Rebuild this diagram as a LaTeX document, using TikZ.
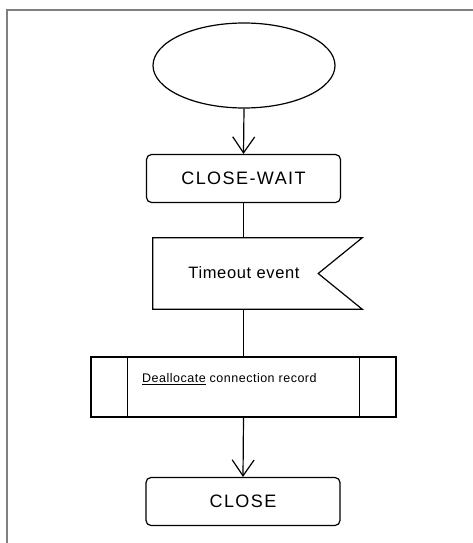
\documentclass[tikz,border=0pt]{standalone}
\usepackage{fontspec}
\setmainfont{Liberation Sans}
\newfontfamily\wideface[LetterSpace=8]{Liberation Sans}
\newfontfamily\midface[LetterSpace=4]{Liberation Sans}
\usepackage{tikz}
\usetikzlibrary{arrows.meta,shapes.geometric,positioning,calc}
\definecolor{frameGray}{RGB}{128,128,128}

\begin{document}
\begin{tikzpicture}[x=1pt,y=-1pt,
  sdl/.style={draw,line width=1.2pt,inner sep=0pt},
  state/.style={sdl,rectangle,rounded corners=5pt,minimum width=194pt,minimum height=48pt,
                font=\wideface\fontsize{18}{20}\selectfont},
  flow/.style={line width=1.2pt},
  go/.style={flow,-{Straight Barb[length=16pt,width=22pt,line width=1.2pt]}}
]
  \useasboundingbox (0,0) rectangle (473,543);
  % frame
  \draw[frameGray,line width=2pt] (7,543) -- (7,10) -- (473,10);
  % start
  \node[sdl,ellipse,minimum width=182pt,minimum height=85pt] (start) at (244,65.5) {};
  \node[state] (closewait) at (243.5,178.5) {CLOSE-WAIT};
  % input signal
  \node[inner sep=0pt,minimum width=209pt,minimum height=71pt] (timeout) at (257.5,273.5) {};
  \draw[flow] (timeout.north west) -- (timeout.north east) -- ([xshift=-44pt]timeout.east)
    -- (timeout.south east) -- (timeout.south west) -- cycle;
  \node[font=\midface\fontsize{16.5}{18}\selectfont] (timeouttxt) at (244,273) {Timeout event};
  % procedure call
  \node[sdl,rectangle,minimum width=305pt,minimum height=60pt] (dealloc) at (243.5,387) {};
  \draw[flow] ([xshift=37pt]dealloc.north west) -- ([xshift=37pt]dealloc.south west);
  \draw[flow] ([xshift=-37pt]dealloc.north east) -- ([xshift=-37pt]dealloc.south east);
  \node[anchor=west,inner sep=0pt,font=\midface\fontsize{12.5}{14}\selectfont] (dealloctxt) at (142,379)
    {\underline{Deallocate} connection record};
  \node[state] (close) at (243,501.5) {CLOSE};
  % connectors
  \draw[go] (start.south) -- (closewait.north);
  \draw[flow] (closewait.south) -- (closewait.south |- timeout.north);
  \draw[flow] (closewait.south |- timeout.south) -- (closewait.south |- dealloc.north);
  \draw[go] (dealloc.south) -- (close.north);
\end{tikzpicture}
\end{document}
